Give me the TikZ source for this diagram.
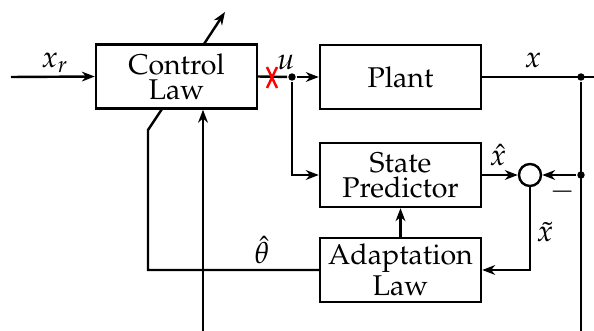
\documentclass[tikz,border=0pt]{standalone}
\usepackage[T1]{fontenc}
\usepackage{mathpazo}
\usetikzlibrary{arrows.meta}
\begin{document}
\begin{tikzpicture}[x=0.35pt,y=-0.35pt,
  >={Stealth[length=4.5pt,width=3.4pt,inset=1.4pt]}, line width=0.85pt,
  blk/.style={draw, line width=0.85pt, minimum width=56.35pt, minimum height=22.4pt,
    align=center, inner sep=0pt, font=\fontsize{10}{8.8}\selectfont},
  dot/.style={circle, fill, inner sep=0pt, minimum size=2.6pt},
  sumnode/.style={circle, draw, line width=0.85pt, inner sep=0pt, minimum size=7.7pt},
  lbl/.style={inner sep=0pt, font=\fontsize{10.5}{12}\selectfont}]
\useasboundingbox (0,0) rectangle (594,331);
% blocks
\node[blk] (cl) at (176.5,76.5) {Control\\Law};
\node[blk] (plant) at (400.5,77) {Plant};
\node[blk] (sp) at (400.5,175) {State\\Predictor};
\node[blk] (al) at (400.5,270) {Adaptation\\Law};
\node[sumnode] (sum) at (530,175) {};
% junction dots
\node[dot] (du) at (292,77) {};
\node[dot] (dx) at (581,77) {};
\node[dot] (dx2) at (581,175) {};
% free ends
\coordinate (in) at (11,77);
\coordinate (out) at (594,77);
\coordinate (bot1) at (203,331);
\coordinate (bot2) at (581,331);
\coordinate (tuneS) at (204,44);
\coordinate (tuneE) at (225,12);
\coordinate (thA) at (148,130);
\coordinate (thB) at (162,109);
% connectors
\draw[->] (in) -- (cl.west);
\draw (cl.east) -- (du);
\draw[->] (du) -- (plant.west);
\draw[->] (du) |- (sp.west);
\draw (plant.east) -- (out);
\draw (dx) -- (bot2);
\draw[->] (dx2) -- (sum.east);
\draw[->] (sp.east) -- (sum.west);
\draw[->] (sum.south) |- (al.east);
\draw[->] (al.north) -- (sp.south);
\draw (al.west) -| (thA) -- (thB);
\draw[->] (bot1) -- (cl.south -| bot1);
\draw[->] (tuneS) -- (tuneE);
% red cross
\draw[red, line width=0.85pt] (267,67) -- (277,88) (277,67) -- (267,88);
% labels
\node[lbl] at (55,63) {$x_r$};
\node[lbl] at (286,62) {$u$};
\node[lbl] at (533,60) {$x$};
\node[lbl] at (498,155) {$\hat{x}$};
\node[lbl] at (545,232) {$\tilde{x}$};
\node[lbl] at (262,250) {$\hat{\theta}$};
\node[lbl] at (563,192) {$-$};
\end{tikzpicture}
\end{document}
